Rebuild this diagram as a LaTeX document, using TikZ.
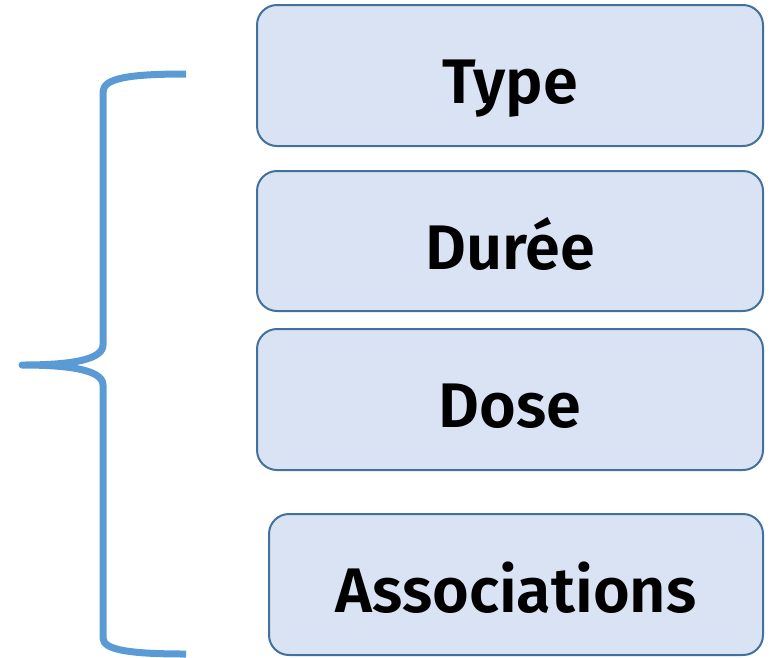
\documentclass[tikz,border=0pt]{standalone}
\usepackage{fontspec}
\setmainfont{Fira Sans}[BoldFont={Fira Sans SemiBold}]
\definecolor{boxfill}{HTML}{DAE3F3}
\definecolor{boxline}{HTML}{41719C}
\definecolor{bracecol}{HTML}{5B9BD5}
\begin{document}
\begin{tikzpicture}[x=1pt,y=-1pt,
  item/.style={draw=boxline,line width=2pt,fill=boxfill,rounded corners=20pt,
    font=\fontsize{63}{70}\selectfont\bfseries,text=black,inner sep=0pt,anchor=center,
    text height=56pt,text depth=0pt}]
\useasboundingbox (0,0) rectangle (775,657);
\node[item,minimum width=506pt,minimum height=141pt] (type) at (510,75.5) {Type};
\node[item,minimum width=506pt,minimum height=140pt] (duree) at (510,241) {Durée};
\node[item,minimum width=506pt,minimum height=141pt] (dose) at (510,399.5) {Dose};
\node[item,minimum width=494pt,minimum height=141pt] (assoc) at (516,584.5) {Associations};
\coordinate (btop) at (186,74);
\coordinate (bbot) at (186,654);
\coordinate (btip) at (22,365);
\draw[bracecol,line width=7pt,line join=round]
  (btop) .. controls (130,74) and (103,78) .. (103,92)
  -- (103,345) .. controls (103,362) and (60,365) .. (btip)
  .. controls (60,365) and (103,368) .. (103,385)
  -- (103,638) .. controls (103,650) and (130,654) .. (bbot);
\end{tikzpicture}
\end{document}
